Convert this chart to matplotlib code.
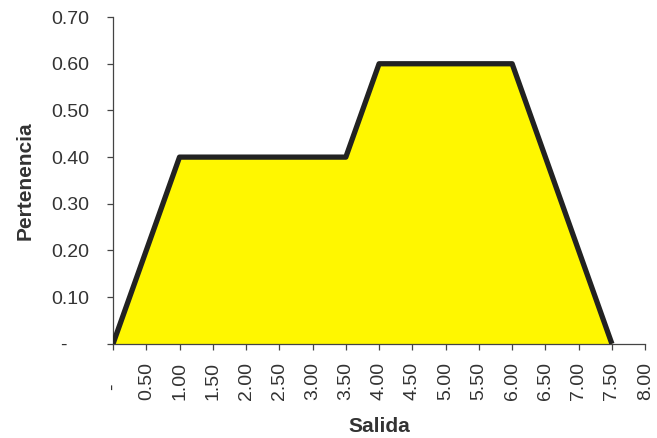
import matplotlib.pyplot as plt
import numpy as np

# Membership function (trapezoid pair) for the output variable
salida = [0.0, 1.0, 3.5, 4.0, 6.0, 7.5]
pertenencia = [0.0, 0.40, 0.40, 0.60, 0.60, 0.0]

x_ticks = np.arange(0, 8.01, 0.5)
y_ticks = np.arange(0, 0.701, 0.1)

plt.rcParams["font.family"] = ["Liberation Sans", "DejaVu Sans"]

fig = plt.figure(figsize=(6.57, 4.38), dpi=100)
ax = fig.add_axes([0.172, 0.215, 0.810, 0.746])

ax.fill_between(salida, pertenencia, color="#FFF700", zorder=2, linewidth=0)
ax.plot(salida, pertenencia, color="#222222", linewidth=3.8,
        solid_joinstyle="round", solid_capstyle="butt", zorder=3)

ax.set_xlim(0, 8)
ax.set_ylim(0, 0.70)

# accounting-style format: zero shown as a dash padded on the right
def fmt(v):
    return "-    " if abs(v) < 1e-9 else f"{v:.2f}"

ax.set_xticks(x_ticks)
ax.set_xticklabels([fmt(v) for v in x_ticks], rotation=90, fontsize=14,
                   color="#333333")
ax.set_yticks(y_ticks)
ax.set_yticklabels([fmt(v) for v in y_ticks], fontsize=14, color="#333333")

for side in ("top", "right"):
    ax.spines[side].set_visible(False)
for side in ("left", "bottom"):
    ax.spines[side].set_color("#444444")
    ax.spines[side].set_linewidth(0.9)

ax.tick_params(axis="x", direction="out", length=4, width=0.9,
               color="#444444", pad=9)
ax.tick_params(axis="y", direction="out", length=4, width=0.9,
               color="#444444", pad=13)

ax.set_xlabel("Salida", fontsize=15, fontweight="bold", color="#333333",
              labelpad=12)
ax.set_ylabel("Pertenencia", fontsize=15, fontweight="bold", color="#333333",
              labelpad=12)

fig.savefig("out.png", dpi=100, facecolor="white")
